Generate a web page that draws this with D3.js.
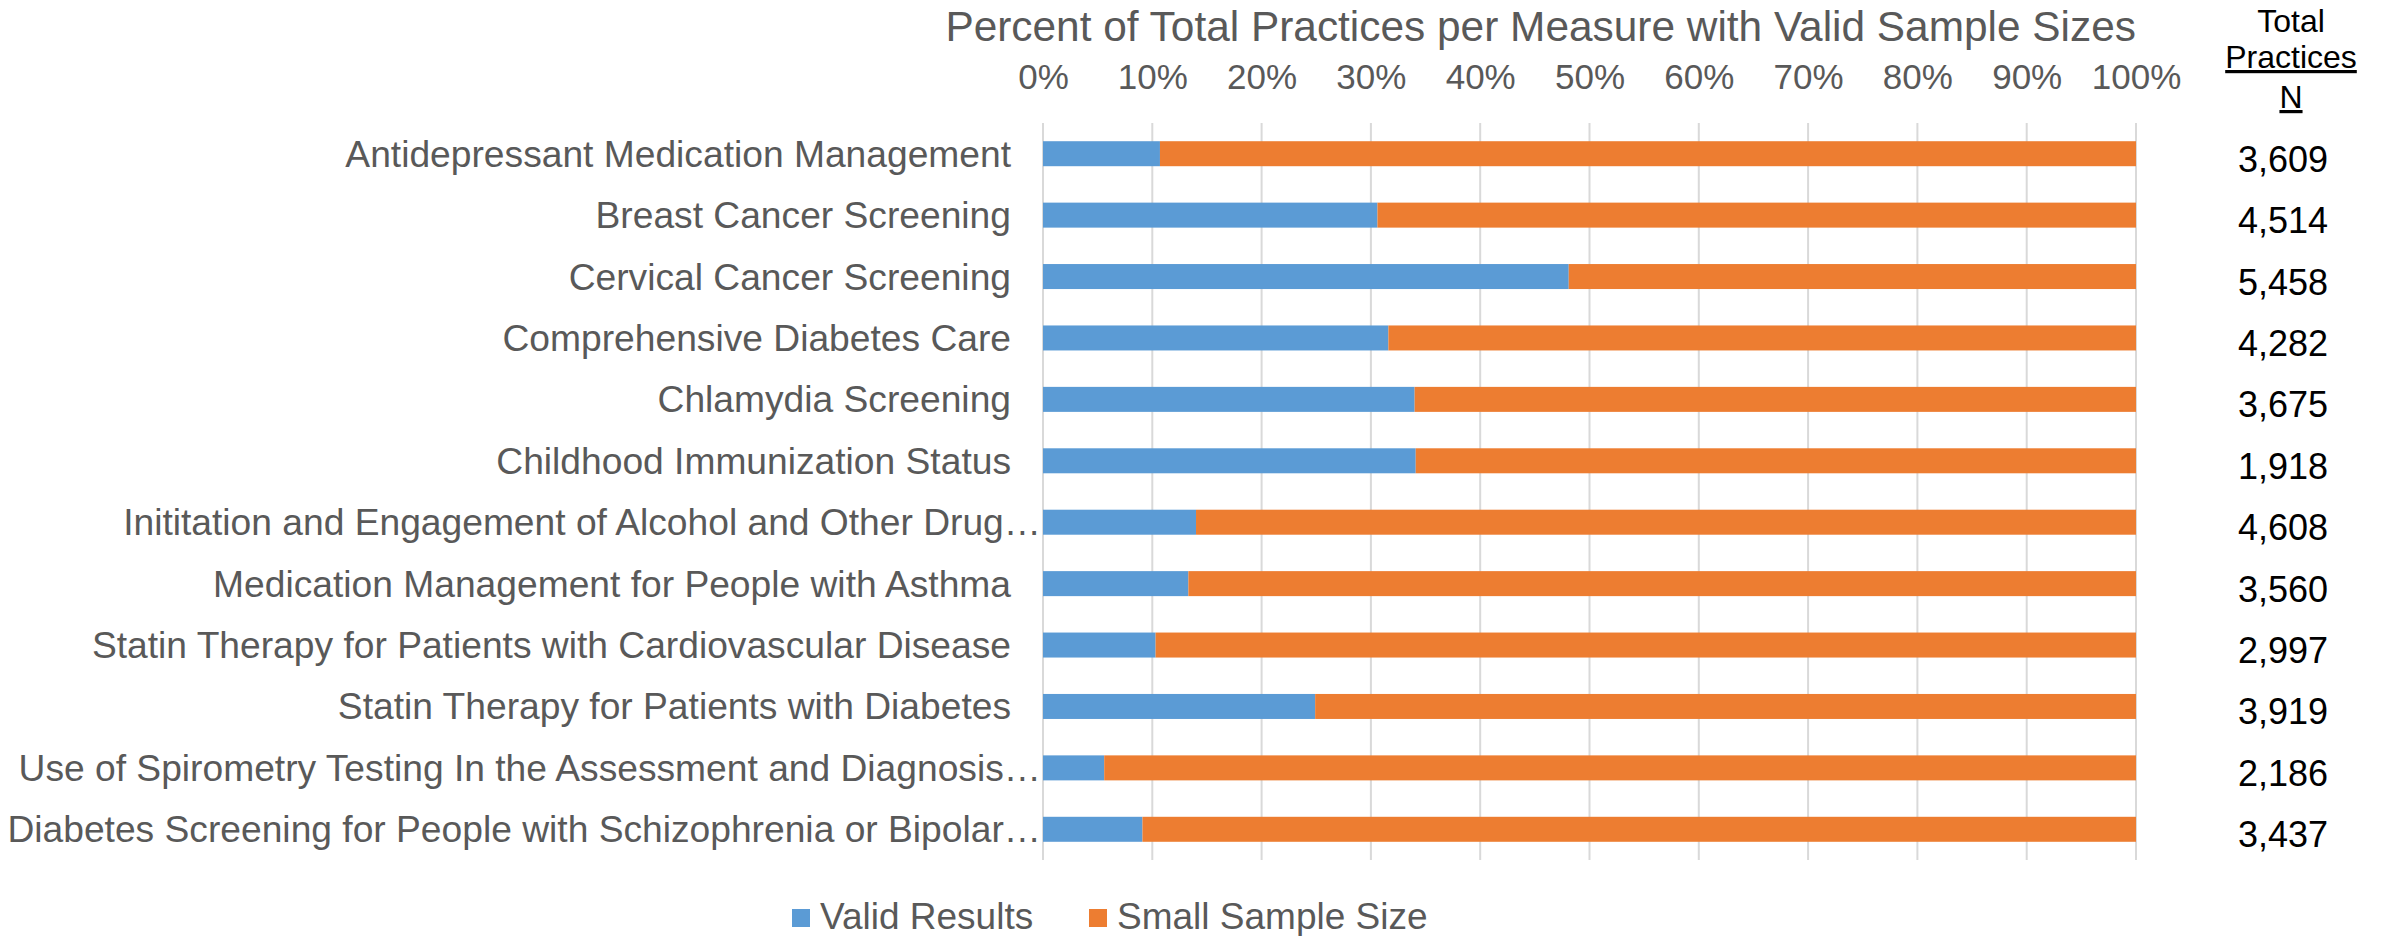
<!DOCTYPE html>
<html>
<head>
<meta charset="utf-8">
<script src="https://cdn.jsdelivr.net/npm/d3@7"></script>
<style>
  body { margin: 0; background: #fff; }
  svg { display: block; font-family: "Liberation Sans", Arial, sans-serif; }
</style>
</head>
<body>
<div id="my_dataviz"></div>
<script>
// measures, top to bottom, as the labels are shown (long ones cut off)
var measures = [
    "Antidepressant Medication Management",
    "Breast Cancer Screening",
    "Cervical Cancer Screening",
    "Comprehensive Diabetes Care",
    "Chlamydia Screening",
    "Childhood Immunization Status",
    "Inititation and Engagement of Alcohol and Other Drug\u2026",
    "Medication Management for People with Asthma",
    "Statin Therapy for Patients with Cardiovascular Disease",
    "Statin Therapy for Patients with Diabetes",
    "Use of Spirometry Testing In the Assessment and Diagnosis\u2026",
    "Diabetes Screening for People with Schizophrenia or Bipolar\u2026"
];

// percent of practices with valid results
var validPct = [10.7, 30.6, 48.1, 31.6, 34.0, 34.1, 14.0, 13.3, 10.3, 24.9, 5.6, 9.1];

// total practices per measure
var totalN = [3609, 4514, 5458, 4282, 3675, 1918, 4608, 3560, 2997, 3919, 2186, 3437];

var seriesNames = ["Valid Results", "Small Sample Size"];
var seriesColors = ["#5B9BD5", "#ED7D31"];
var tickValues = [0, 10, 20, 30, 40, 50, 60, 70, 80, 90, 100];

var width = 2384;
var height = 936;
var textGrey = "#595959";

var svg = d3.select("#my_dataviz")
    .append("svg")
    .attr("width", width)
    .attr("height", height);

// stack valid + small sample so every bar reaches 100%
var rows = measures.map(function (m, i) {
    return { measure: m, valid: validPct[i], small: 100 - validPct[i], n: totalN[i] };
});
var stacked = d3.stack().keys(["valid", "small"])(rows);

var x = d3.scaleLinear()
    .domain([0, 100])
    .range([1043, 2136]);

var y = d3.scaleBand()
    .domain(measures)
    .range([123, 860])
    .paddingInner(0.593)
    .paddingOuter(0.2965);

// gridlines
svg.append("g")
    .selectAll("line")
    .data(tickValues)
    .enter()
    .append("line")
    .attr("x1", function (d) { return x(d); })
    .attr("x2", function (d) { return x(d); })
    .attr("y1", 123)
    .attr("y2", 860)
    .attr("stroke", "#D9D9D9")
    .attr("stroke-width", 2);

// top axis, labels only
var xAxis = svg.append("g")
    .attr("transform", "translate(0,89)")
    .call(d3.axisTop(x).tickValues(tickValues).tickSize(0).tickPadding(0)
        .tickFormat(function (d) { return d + "%"; }));
xAxis.select(".domain").remove();
xAxis.selectAll("text")
    .attr("dy", 0)
    .attr("fill", textGrey)
    .style("font-size", "35px")
    .style("font-family", "'Liberation Sans', Arial, sans-serif");

// title
svg.append("text")
    .attr("x", x(100))
    .attr("y", 41)
    .attr("text-anchor", "end")
    .attr("fill", textGrey)
    .style("font-size", "42.4px")
    .text("Percent of Total Practices per Measure with Valid Sample Sizes");

// the bars
svg.append("g")
    .selectAll("g")
    .data(stacked)
    .enter()
    .append("g")
    .attr("fill", function (d, i) { return seriesColors[i]; })
    .selectAll("rect")
    .data(function (d) { return d; })
    .enter()
    .append("rect")
    .attr("x", function (d) { return x(d[0]); })
    .attr("width", function (d) { return x(d[1]) - x(d[0]); })
    .attr("y", function (d) { return y(d.data.measure); })
    .attr("height", y.bandwidth());

// category labels; the cut-off ones run right up to the axis
svg.append("g")
    .selectAll("text")
    .data(measures)
    .enter()
    .append("text")
    .attr("x", function (d) { return d.slice(-1) === "\u2026" ? x(0) - 2 : x(0) - 32; })
    .attr("y", function (d) { return y(d) + y.bandwidth() / 2; })
    .attr("dy", "0.35em")
    .attr("text-anchor", "end")
    .attr("fill", textGrey)
    .style("font-size", "37.2px")
    .text(function (d) { return d; });

// right column header
var header = svg.append("g")
    .attr("text-anchor", "middle")
    .attr("fill", "#000")
    .style("font-size", "32px");
header.append("text").attr("x", 2291).attr("y", 32).text("Total");
header.append("text").attr("x", 2291).attr("y", 68)
    .style("text-decoration", "underline").text("Practices");
header.append("text").attr("x", 2291).attr("y", 108)
    .style("text-decoration", "underline").text("N");

// right column totals
svg.append("g")
    .selectAll("text")
    .data(rows)
    .enter()
    .append("text")
    .attr("x", 2283)
    .attr("y", function (d) { return y(d.measure) + y.bandwidth() / 2 + 18; })
    .attr("text-anchor", "middle")
    .attr("fill", "#000")
    .style("font-size", "36px")
    .text(function (d) { return d3.format(",")(d.n); });

// legend
var legendX = [792, 1089];
var legend = svg.append("g")
    .selectAll("g")
    .data(seriesNames)
    .enter()
    .append("g")
    .attr("transform", function (d, i) { return "translate(" + legendX[i] + ",909)"; });
legend.append("rect")
    .attr("width", 18)
    .attr("height", 18)
    .attr("fill", function (d, i) { return seriesColors[i]; });
legend.append("text")
    .attr("x", 28)
    .attr("y", 20)
    .attr("fill", textGrey)
    .style("font-size", "37px")
    .text(function (d) { return d; });
</script>
</body>
</html>
